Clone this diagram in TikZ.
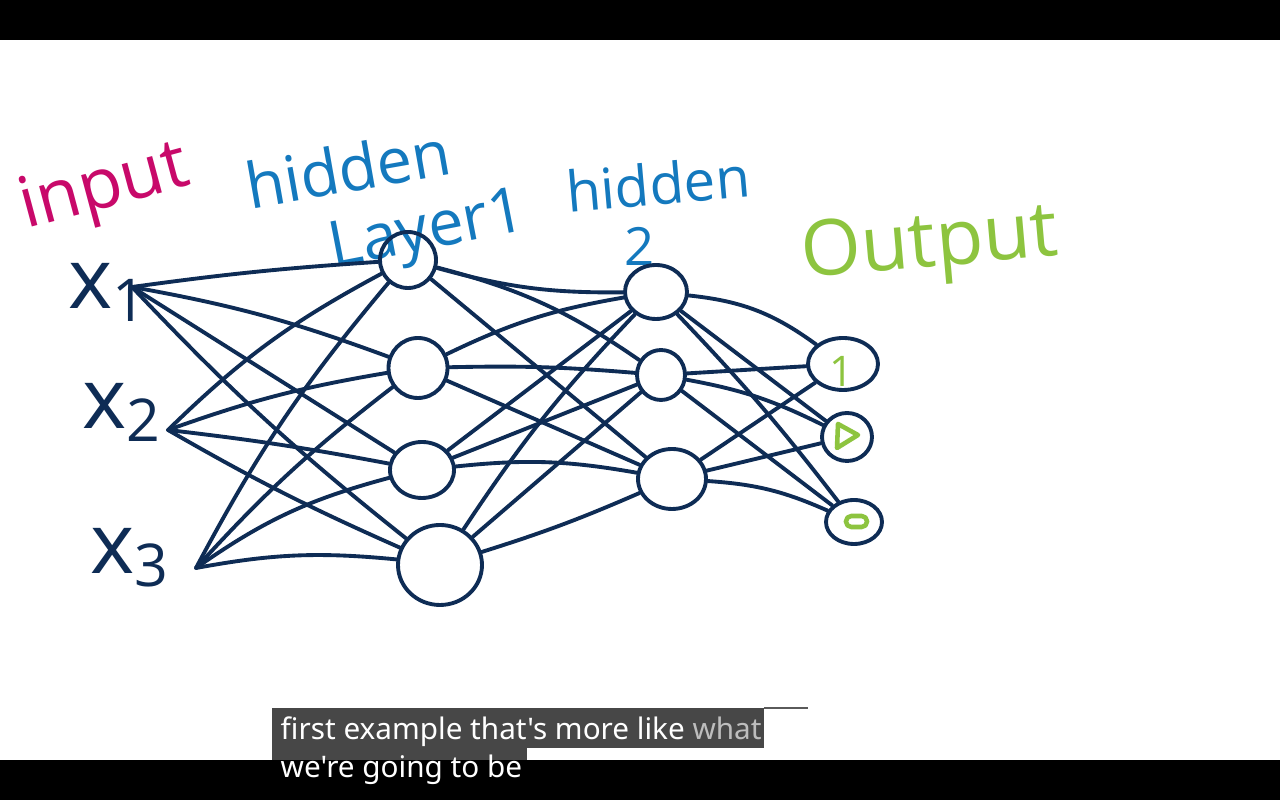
\documentclass[tikz,border=0pt]{standalone}
\usepackage{fontspec}
\setmainfont{Open Sans}
\newfontfamily\subfont{Noto Sans}
\usetikzlibrary{shapes.geometric}
\definecolor{navy}{HTML}{0E2C55}
\definecolor{inpink}{HTML}{C8096A}
\definecolor{hblue}{HTML}{1479BE}
\definecolor{ogreen}{HTML}{8DC43F}
\definecolor{subgray}{HTML}{474747}
\definecolor{whatgray}{HTML}{BDBDBD}
\definecolor{edgegray}{HTML}{5A5A5A}
\begin{document}
\begin{tikzpicture}[x=0.1mm,y=-0.1mm,
  neuron/.style={ellipse,draw=navy,line width=1.1pt,inner sep=0pt},
  conn/.style={draw=navy,line width=1.1pt,line cap=round},
  lab/.style={inner sep=0pt},
  xlab/.style={lab,text=navy,font=\fontsize{24}{26}\selectfont},
  greenmark/.style={draw=ogreen,line width=1.3pt,line join=round,line cap=round}]
\useasboundingbox (0,0) rectangle (1280,800);
\fill[white] (0,0) rectangle (1280,800);
\fill[black] (0,0) rectangle (1280,40);
\fill[black] (0,760) rectangle (1280,800);

% titles
\node[lab,text=inpink,rotate=15,font=\fontsize{20}{24}\selectfont] (tin) at (105,190) {input};
\node[lab,text=hblue,rotate=10,font=\fontsize{18}{22}\selectfont] (thid1) at (348,168) {hidden};
\node[lab,text=hblue,rotate=11,font=\fontsize{18}{22}\selectfont] (tlay) at (428,234) {Layer1};
\node[lab,text=hblue,rotate=5,font=\fontsize{16}{20}\selectfont] (thid2) at (658,184) {hidden};
\node[lab,text=hblue,font=\fontsize{15}{18}\selectfont] (ttwo) at (640,246) {2};
\node[lab,text=ogreen,rotate=5,font=\fontsize{22}{26}\selectfont] (tout) at (930,248) {Output};

% input labels
\node[xlab] (lx1) at (108,292) {x\textsubscript{1}};
\node[xlab] (lx2) at (122,412) {x\textsubscript{2}};
\node[xlab] (lx3) at (130,558) {x\textsubscript{3}};
\coordinate (xa) at (132,287);
\coordinate (xb) at (168,430);
\coordinate (xc) at (196,568);

% hidden layer 1
\node[neuron,minimum width=5.6mm,minimum height=5.6mm] (h1a) at (408,260) {};
\node[neuron,minimum width=5.9mm,minimum height=6.0mm] (h1b) at (418,368) {};
\node[neuron,minimum width=6.4mm,minimum height=5.6mm] (h1c) at (422,470) {};
\node[neuron,minimum width=8.4mm,minimum height=8.0mm] (h1d) at (440,565) {};
% hidden layer 2
\node[neuron,minimum width=6.2mm,minimum height=5.4mm] (h2a) at (656,292) {};
\node[neuron,minimum width=4.8mm,minimum height=5.0mm] (h2b) at (661,375) {};
\node[neuron,minimum width=6.8mm,minimum height=6.0mm] (h2c) at (672,479) {};
% output
\node[neuron,minimum width=7.0mm,minimum height=5.2mm] (o1) at (843,364) {};
\node[neuron,minimum width=5.0mm,minimum height=4.8mm] (o2) at (847,437) {};
\node[neuron,minimum width=5.6mm,minimum height=4.4mm] (o3) at (854,522) {};

\node[lab,text=ogreen,font=\fontsize{12}{12}\selectfont] (o1v) at (842,371) {1};
\draw[greenmark] (838,424) -- (858,435) -- (837,448) -- cycle;
\draw[greenmark,rounded corners=1.5pt] (846,516) rectangle (867,527);

% input -> hidden 1
\draw[conn] (xa) to[bend left=2] (h1a);
\draw[conn] (xa) to[bend left=5] (h1b);
\draw[conn] (xa) to (h1c);
\draw[conn] (xa) to[bend right=4] (h1d);
\draw[conn] (xb) to[bend left=8] (h1a);
\draw[conn] (xb) to[bend left=5] (h1b);
\draw[conn] (xb) to[bend left=2] (h1c);
\draw[conn] (xb) to[bend right=3] (h1d);
\draw[conn] (xc) to[bend left=6] (h1a);
\draw[conn] (xc) to[bend left=5] (h1b);
\draw[conn] (xc) to[bend left=10] (h1c);
\draw[conn] (xc) to[bend left=8] (h1d);

% hidden 1 -> hidden 2
\draw[conn] (h1a) to[bend right=8] (h2a);
\draw[conn] (h1a) to[bend left=10] (h2b);
\draw[conn] (h1a) to (h2c);
\draw[conn] (h1b) to[bend left=8] (h2a);
\draw[conn] (h1b) to[bend left=3] (h2b);
\draw[conn] (h1b) to (h2c);
\draw[conn] (h1c) to (h2a);
\draw[conn] (h1c) to (h2b);
\draw[conn] (h1c) to[bend left=8] (h2c);
\draw[conn] (h1d) to[bend left=5] (h2a);
\draw[conn] (h1d) to (h2b);
\draw[conn] (h1d) to[bend right=3] (h2c);

% hidden 2 -> output
\draw[conn] (h2a) to[bend left=15] (o1);
\draw[conn] (h2a) to (o2);
\draw[conn] (h2a) to[bend left=3] (o3);
\draw[conn] (h2b) to (o1);
\draw[conn] (h2b) to[bend left=8] (o2);
\draw[conn] (h2b) to (o3);
\draw[conn] (h2c) to (o1);
\draw[conn] (h2c) to (o2);
\draw[conn] (h2c) to[bend left=10] (o3);

% subtitles
\fill[subgray] (272,708) rectangle (764,748);
\draw[edgegray,line width=0.6pt] (764,708) -- (808,708);
\fill[black,opacity=0.72] (272,748) rectangle (527,785);
\node[lab,anchor=base west,font=\subfont\fontsize{8.45}{10}\selectfont,text=white] (cap1) at (280,740) {first example that's more like \textcolor{whatgray}{what}};
\node[lab,anchor=base west,font=\subfont\fontsize{8.45}{10}\selectfont,text=white] (cap2) at (280,778) {we're going to be};
\end{tikzpicture}
\end{document}
